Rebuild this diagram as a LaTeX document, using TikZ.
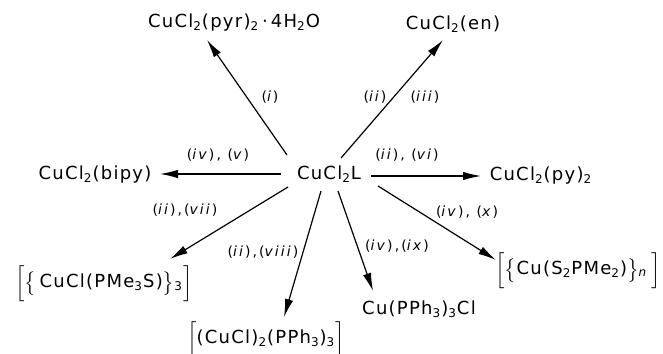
\documentclass[tikz,border=0pt]{standalone}
\usepackage{fontspec}
\setmainfont{DejaVu Sans}[LetterSpace=7]
\usetikzlibrary{arrows.meta}
\newcommand{\sub}[1]{\textsubscript{#1}}
\newcommand{\rn}[1]{(\textit{#1})}
\newcommand{\lbk}{$\Bigl[$}
\newcommand{\rbk}{$\Bigr]$}
\newcommand{\lbr}{$\bigl\{$}
\newcommand{\rbr}{$\bigr\}$}
\tikzset{
  cmpd/.style={inner sep=0pt, font=\fontsize{9}{11}\selectfont},
  cond/.style={inner sep=0pt, font=\fontsize{7}{8}\selectfont\addfontfeatures{LetterSpace=15}},
  rxn/.style={line width=0.6pt, -{Latex[length=9pt,width=4.2pt]}}
}
\begin{document}
\begin{tikzpicture}[x=0.5pt,y=-0.5pt]
\useasboundingbox (0,0) rectangle (663,353);
% compounds
\node[cmpd] (c) at (329,174) {CuCl\sub{2}L};
\node[cmpd] (pyr) at (234,23) {CuCl\sub{2}(pyr)\sub{2}\,·\,4H\sub{2}O};
\node[cmpd] (en) at (453,24) {CuCl\sub{2}(en)};
\node[cmpd] (bipy) at (95,175) {CuCl\sub{2}(bipy)};
\node[cmpd] (py) at (541,176) {CuCl\sub{2}(py)\sub{2}};
\node[cmpd] (pme) at (104,283) {\lbk\lbr\,CuCl(PMe\sub{3}S)\rbr\sub{3}\rbk};
\node[cmpd] (cucl2) at (266,339) {\lbk(CuCl)\sub{2}(PPh\sub{3})\sub{3}\rbk};
\node[cmpd] (pph) at (419,309) {Cu(PPh\sub{3})\sub{3}Cl};
\node[cmpd] (s2p) at (578,270) {\lbk\lbr Cu(S\sub{2}PMe\sub{2})\rbr\sub{\textit{n}}\,\rbk};
% arrow end points
\coordinate (a1) at (287,155); \coordinate (b1) at (207,40);
\coordinate (a2) at (341,158); \coordinate (b2) at (443,40);
\coordinate (a3) at (281,174); \coordinate (b3) at (160,174);
\coordinate (a4) at (371,176); \coordinate (b4) at (481,176);
\coordinate (a5) at (288,187); \coordinate (b5) at (170,259);
\coordinate (a6) at (321,191); \coordinate (b6) at (284,317);
\coordinate (a7) at (338,191); \coordinate (b7) at (373,291);
\coordinate (a8) at (378,186); \coordinate (b8) at (496,260);
\draw[rxn] (a1) -- (b1);
\draw[rxn] (a2) -- (b2);
\draw[rxn] (a3) -- (b3);
\draw[rxn] (a4) -- (b4);
\draw[rxn] (a5) -- (b5);
\draw[rxn] (a6) -- (b6);
\draw[rxn] (a7) -- (b7);
\draw[rxn] (a8) -- (b8);
% conditions
\node[cond] (l1) at (270,97) {\rn{i}};
\node[cond] (l2) at (375,97) {\rn{ii}};
\node[cond] (l3) at (425,97) {\rn{iii}};
\node[cond] (l4) at (218,155) {\rn{iv}, \rn{v}};
\node[cond] (l5) at (407,155) {\rn{ii}, \rn{vi}};
\node[cond] (l6) at (185,210) {\rn{ii},\rn{vii}};
\node[cond] (l7) at (467,212) {\rn{iv}, \rn{x}};
\node[cond] (l8) at (263,252) {\rn{ii},\rn{viii}};
\node[cond] (l9) at (397,246) {\rn{iv},\rn{ix}};
\end{tikzpicture}
\end{document}
